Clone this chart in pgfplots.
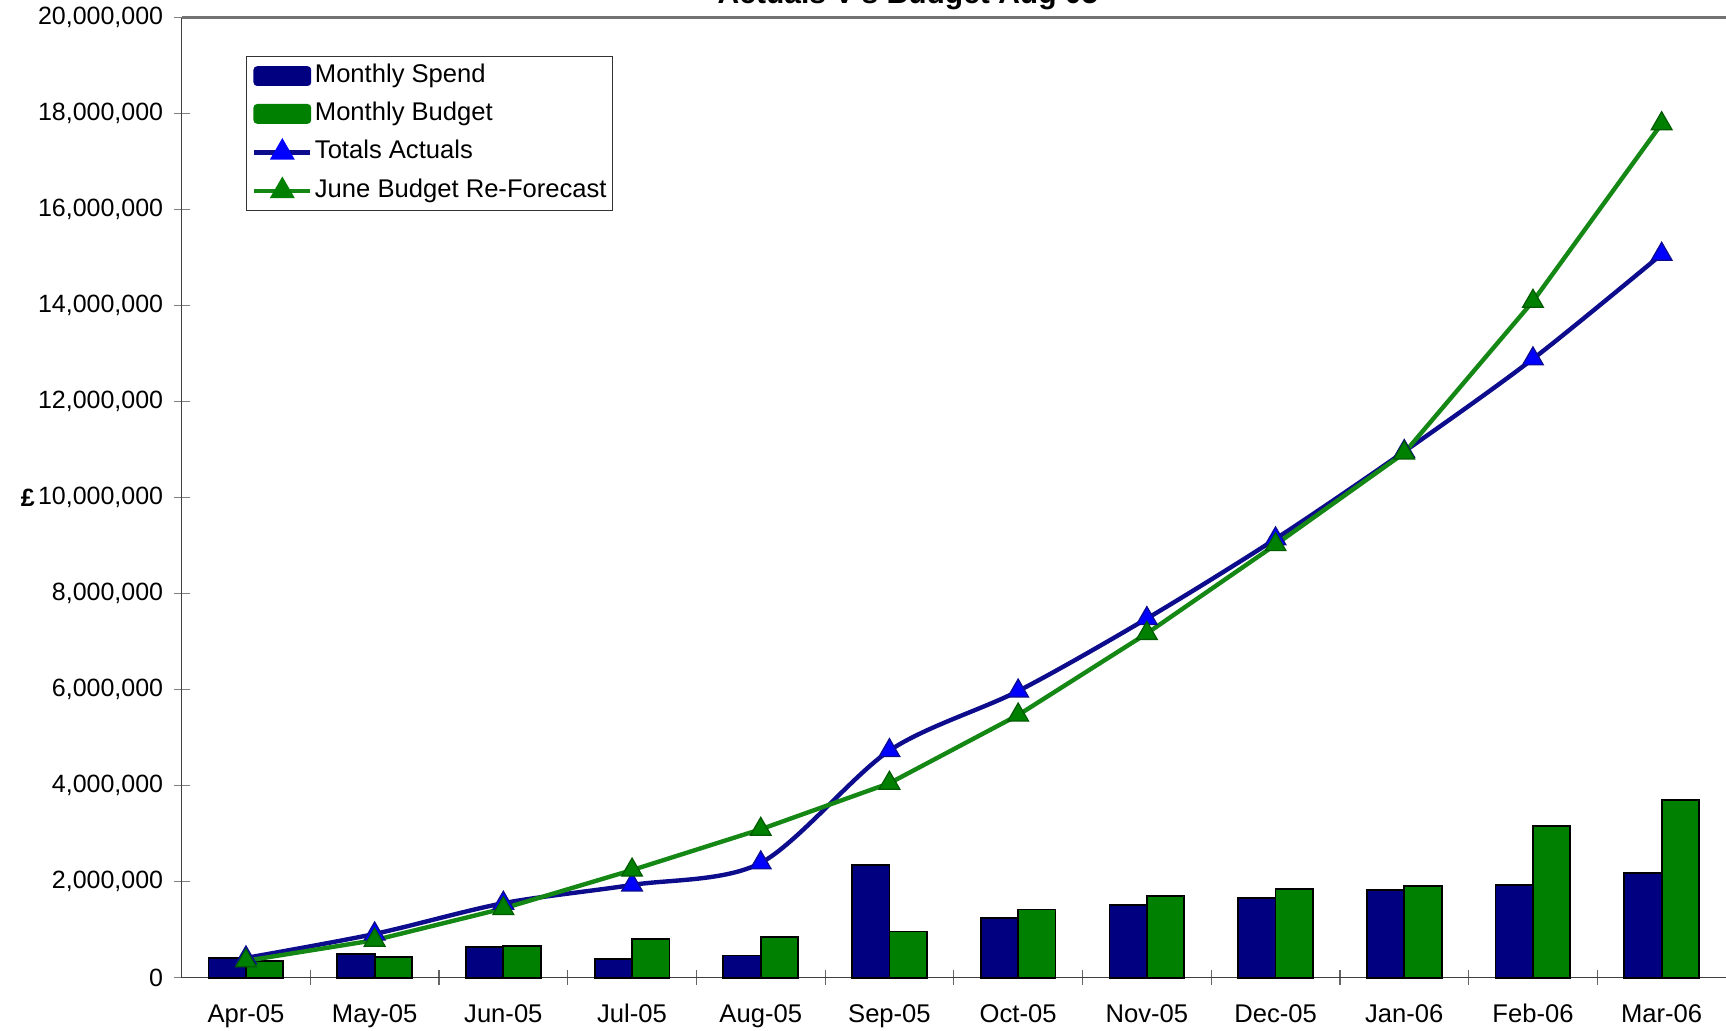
\documentclass[border=0pt]{standalone}
\usepackage{pgfplots}
\pgfplotsset{compat=1.18}
\usepackage{fontspec}
\setmainfont{Liberation Sans}
\definecolor{navybar}{RGB}{0,0,128}
\definecolor{greenbar}{RGB}{0,128,0}
\definecolor{blueline}{RGB}{12,12,140}
\definecolor{bluemark}{RGB}{0,0,255}
\definecolor{greenline}{RGB}{20,135,20}
\begin{document}
\begin{tikzpicture}
\begin{axis}[
  scale only axis, width=772.2pt, height=480pt,
  xmin=-0.5, xmax=11.5, ymin=0, ymax=20000000,
  axis x line=bottom, axis y line=left,
  axis line style={-, draw=black!75, line width=0.8pt},
  xtick={0,1,2,3,4,5,6,7,8,9,10,11},
  xticklabels={Apr-05,May-05,Jun-05,Jul-05,Aug-05,Sep-05,Oct-05,Nov-05,Dec-05,Jan-06,Feb-06,Mar-06},
  major x tick style={draw=none},
  minor xtick={0.5,1.5,2.5,3.5,4.5,5.5,6.5,7.5,8.5,9.5,10.5},
  minor tick length=7.5pt,
  minor x tick style={draw=black!60, line width=0.6pt},
  ytick={0,2000000,4000000,6000000,8000000,10000000,12000000,14000000,16000000,18000000,20000000},
  yticklabels={0,{2,000,000},{4,000,000},{6,000,000},{8,000,000},{10,000,000},{12,000,000},{14,000,000},{16,000,000},{18,000,000},{20,000,000}},
  scaled y ticks=false,
  major tick length=8pt,
  tick align=center,
  major y tick style={draw=black!50, line width=0.6pt},
  /pgf/number format/assume math mode=true,
  xticklabel style={yshift=-5.8pt, font=\fontsize{12.8}{15}\selectfont},
  yticklabel style={xshift=-1.7pt, font=\fontsize{12.5}{15}\selectfont},
  ylabel={£},
  every axis y label/.style={at={(rel axis cs:0,0.5)}, anchor=west, xshift=-80.5pt, inner sep=0pt, font=\bfseries\fontsize{12.5}{15}\selectfont},
  legend cell align=left,
  legend style={at={(0.0414,0.960)}, anchor=north west, draw=black!80, line width=0.6pt,
    font=\fontsize{12.8}{15}\selectfont, inner xsep=3pt, inner ysep=4pt, row sep=7.4pt,
    nodes={inner sep=0pt, text height=9pt, text depth=2.5pt},
    /tikz/every odd column/.append style={column sep=1.2pt}},
  clip=false,
]
\addplot[ybar, bar width=18.7pt, bar shift=-9.35pt, fill=navybar, draw=black, line width=0.9pt,
  legend image code/.code={\fill[navybar, rounded corners=1.5pt] (0pt,-4.5pt) rectangle (28pt,4.5pt);}]
coordinates {(0,410000) (1,500000) (2,640000) (3,380000) (4,460000) (5,2340000) (6,1240000) (7,1510000) (8,1660000) (9,1820000) (10,1930000) (11,2180000)};
\addlegendentry{Monthly Spend}
\addplot[ybar, bar width=18.7pt, bar shift=9.35pt, fill=greenbar, draw=black, line width=0.9pt,
  legend image code/.code={\fill[greenbar, rounded corners=1.5pt] (0pt,-4.5pt) rectangle (28pt,4.5pt);}]
coordinates {(0,350000) (1,430000) (2,660000) (3,800000) (4,850000) (5,960000) (6,1420000) (7,1700000) (8,1850000) (9,1910000) (10,3160000) (11,3700000)};
\addlegendentry{Monthly Budget}
\addplot[blueline, line width=2.2pt, smooth, tension=0.5, mark=triangle*, mark size=6pt,
  mark options={fill=bluemark, draw=blueline, line width=0.6pt},
  legend image code/.code={\draw[blueline, line width=2.2pt] (0pt,0pt) -- (28pt,0pt); \fill[bluemark] (14pt,0pt) +(90:5pt) -- +(210:5pt) -- +(330:5pt) -- cycle;}]
coordinates {(0,410000) (1,910000) (2,1550000) (3,1930000) (4,2390000) (5,4730000) (6,5970000) (7,7480000) (8,9140000) (9,10960000) (10,12890000) (11,15070000)};
\addlegendentry{Totals Actuals}
\addplot[greenline, line width=2.2pt, mark=triangle*, mark size=6pt,
  mark options={fill=greenbar, draw=greenbar!70!black, line width=0.6pt},
  legend image code/.code={\draw[greenline, line width=2.2pt] (0pt,0pt) -- (28pt,0pt); \fill[greenbar] (14pt,0pt) +(90:5pt) -- +(210:5pt) -- +(330:5pt) -- cycle;}]
coordinates {(0,350000) (1,780000) (2,1440000) (3,2240000) (4,3090000) (5,4050000) (6,5470000) (7,7170000) (8,9020000) (9,10930000) (10,14090000) (11,17790000)};
\addlegendentry{June Budget Re-Forecast}
\end{axis}
\draw[black!55, line width=1.2pt] (0pt,480pt) -- (772.2pt,480pt);
\node[font=\bfseries\fontsize{15}{18}\selectfont, anchor=base] at (363.2pt,486.8pt) {Actuals V's Budget Aug 05};
\pgfresetboundingbox
\useasboundingbox (-90.8pt,-26.25pt) rectangle (772.2pt,488.8pt);
\end{tikzpicture}
\end{document}
